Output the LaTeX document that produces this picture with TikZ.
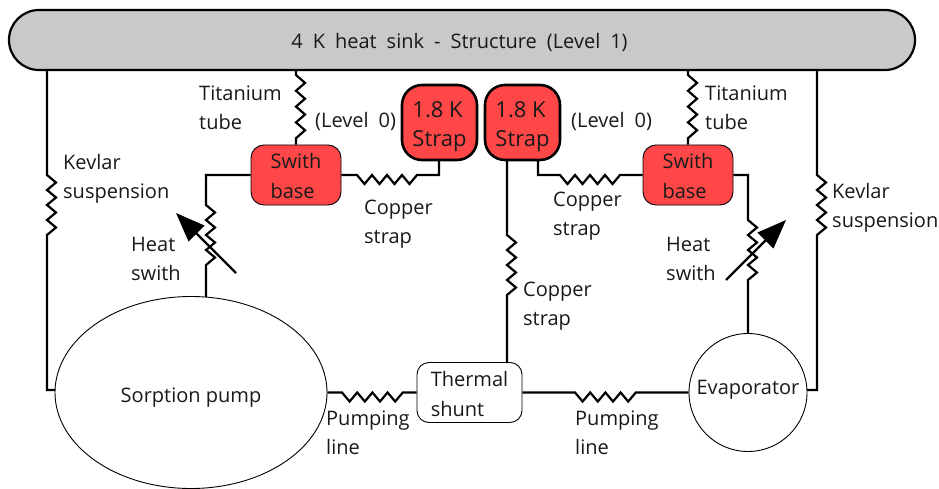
\documentclass[tikz,border=0pt]{standalone}
\usepackage{fontspec}
\setmainfont{Open Sans}
\usetikzlibrary{arrows.meta,shapes.geometric}
\newcommand{\lowered}[2]{\raisebox{-#1}[\height][\depth]{\begin{tabular}{@{}l@{}}#2\end{tabular}}}
\tikzset{
  x=1pt,y=-1pt,
  every node/.style={font=\fontsize{20}{29.5}\selectfont,text=black!90},
  lbl/.style={anchor=west,align=left,inner sep=0pt},
  widegap/.style={execute at begin node={\spaceskip=10pt\relax}},
  wire/.style={draw=black,line width=2.2pt,line join=miter},
  % one-sided teeth, four of them
  zv/.style={insert path={-- ++(9,#1) -- ++(-9,#1) -- ++(9,#1) -- ++(-9,#1) -- ++(9,#1) -- ++(-9,#1) -- ++(9,#1) -- ++(-9,#1)}},
  zv/.default=7.5,
  zh/.style={insert path={-- ++(#1,9) -- ++(#1,-9) -- ++(#1,9) -- ++(#1,-9) -- ++(#1,9) -- ++(#1,-9) -- ++(#1,9) -- ++(#1,-9)}},
  zh/.default=7.6,
  sink/.style={draw=black,line width=2.2pt,fill=black!21,rounded corners=30pt,minimum width=906pt,minimum height=60pt,inner sep=0pt,widegap},
  basebox/.style={draw=black,line width=.9pt,fill=red!72!white,rounded corners=13pt,minimum width=90pt,minimum height=60pt,inner sep=0pt},
  strapbox/.style={draw=black,line width=2.6pt,fill=red!72!white,rounded corners=20pt,minimum width=75pt,minimum height=75pt,inner sep=0pt,font=\fontsize{22}{29.5}\selectfont},
  shuntbox/.style={draw=black,line width=.9pt,fill=white,rounded corners=12pt,minimum width=105pt,minimum height=60pt,inner sep=0pt},
  vessel/.style={draw=black,line width=.9pt,fill=white,inner sep=0pt},
  adjust/.style={draw=black,line width=2.2pt,-{Triangle[length=29pt,width=22pt]}},
}
\begin{document}
\begin{tikzpicture}
\useasboundingbox (0,0) rectangle (939,489);
\node[sink] (hs) at (462,40) {\hspace*{-5pt}\raisebox{-2.5pt}[\height][\depth]{4 K heat sink - Structure (Level 1)}};
% end points on the sink
\coordinate (hsA) at (47,70);
\coordinate (hsB) at (296,70);
\coordinate (hsC) at (688,70);
\coordinate (hsD) at (817,70);
% boxes
\node[basebox] (bl) at (296,175) {\lowered{2.5pt}{Swith\\base}};
\node[basebox] (br) at (688,175) {\lowered{2.5pt}{Swith\\base}};
\node[strapbox] (sl) at (439.5,122.5) {\lowered{3.5pt}{1.8 K\\Strap}};
\node[strapbox] (sr) at (522.5,122.5) {\lowered{3.5pt}{1.8 K\\Strap}};
\node[shuntbox] (sh) at (469.5,392.5) {\lowered{3pt}{Thermal\\shunt}};
% anchors on the far ends
\coordinate (slB) at (439,160);
\coordinate (srBa) at (507,160);
\coordinate (srBb) at (538,160);
\coordinate (shT) at (507,363);
\coordinate (pumpTop) at (206,297);
% Kevlar
\draw[wire] (hsA) -- (47,175) [zv] -- (47,390) -- (56,390);
\draw[wire] (hsD) -- (817,175) [zv] -- (817,390) -- (806,390);
% Titanium
\draw[wire] (hsB) -- (296,75) [zv=7.9] -- (bl.north);
\draw[wire] (hsC) -- (688,75) [zv=7.9] -- (br.north);
% Copper straps
\draw[wire] (bl.east) -- (357,175) [zh=7.5] -- (439,175) -- (slB);
\draw[wire] (srBb) -- (538,175) -- (560,175) [zh=7.5] -- (br.west);
\draw[wire] (srBa) -- (507,235) [zv] -- (shT);
% Heat switches
\draw[wire] (bl.west) -- (206,175) -- (206,205) [zv] -- (pumpTop);
\draw[wire] (br.east) -- (748,175) -- (748,220) [zv] -- (748,334);
% Vessels
\node[vessel,ellipse,minimum width=272pt,minimum height=192pt] (pump) at (191,392.5) {\raisebox{-5.5pt}[\height][\depth]{Sorption pump}};
\node[vessel,circle,minimum size=118pt] (ev) at (748,392.5) {\raisebox{3pt}[\height][\depth]{Evaporator}};
% Pumping lines
\draw[wire] (pump.east) -- (342,392.5) [zh] -- (sh.west);
\draw[wire] (sh.east) -- (575,392.5) [zh] -- (ev.west);
% Adjust arrows
\coordinate (a1s) at (236,273);
\coordinate (a1e) at (176,213);
\coordinate (a2s) at (726,280);
\coordinate (a2e) at (786,220);
\draw[adjust] (a1s) -- (a1e);
\draw[adjust] (a2s) -- (a2e);
% Labels
\node[lbl] (t1) at (199,108) {Titanium\\tube};
\node[lbl] (t2) at (705,108) {Titanium\\tube};
\node[lbl] (k1) at (63,179) {Kevlar\\suspension};
\node[lbl] (k2) at (832,208) {Kevlar\\suspension};
\node[lbl,widegap] (l1) at (315,121) {(Level 0)};
\node[lbl,widegap] (l2) at (571,121) {(Level 0)};
\node[lbl] (c1) at (364,224) {Copper\\strap};
\node[lbl] (c2) at (553,216) {Copper\\strap};
\node[lbl] (c3) at (523,306) {Copper\\strap};
\node[lbl] (h1) at (131,259) {Heat\\swith};
\node[lbl] (h2) at (666,259) {Heat\\swith};
\node[lbl] (p1) at (326,433) {Pumping\\line};
\node[lbl] (p2) at (575,433) {Pumping\\line};
\end{tikzpicture}
\end{document}
